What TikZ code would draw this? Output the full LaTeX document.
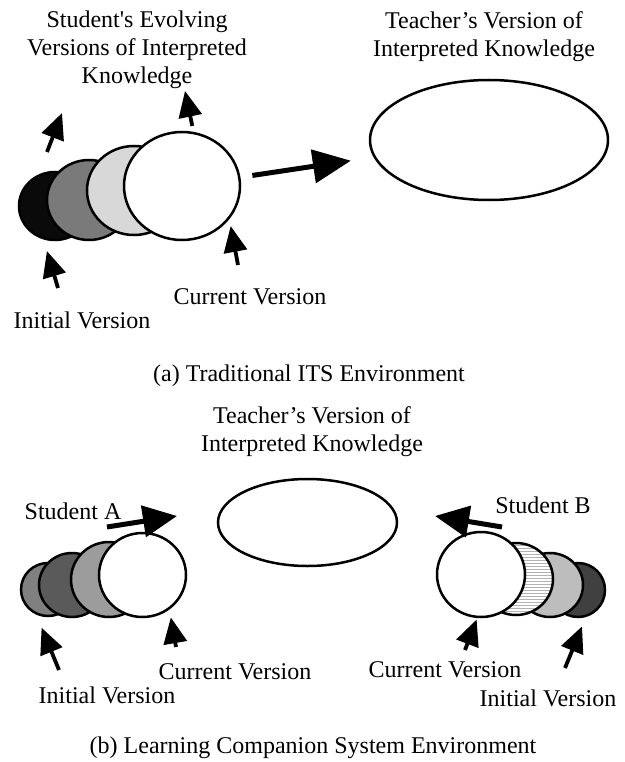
\documentclass[tikz,border=0pt]{standalone}
\usepackage{fontspec}
\setmainfont{Liberation Serif}
\usetikzlibrary{arrows.meta,shapes.geometric,patterns}
\definecolor{InkBlack}{HTML}{0A0A0A}
\definecolor{MidGray}{HTML}{7A7A7A}
\definecolor{PaleGray}{HTML}{D8D8D8}
\definecolor{StoneGray}{HTML}{808080}
\definecolor{SlateGray}{HTML}{5A5A5A}
\definecolor{AshGray}{HTML}{9C9C9C}
\definecolor{SilverGray}{HTML}{BDBDBD}
\definecolor{CoalGray}{HTML}{404040}

\begin{document}
\begin{tikzpicture}[x=1pt, y=-1pt,
		every node/.style={font=\fontsize{24}{28}\selectfont, inner sep=0pt},
		txt/.style={align=center},
		version/.style={ellipse, draw=black, line width=2.5pt, inner sep=0pt},
		bigarrow/.style={line width=5pt, -{Triangle[length=38pt,width=33pt]}},
		smallarrow/.style={line width=3.8pt, -{Triangle[length=26pt,width=23pt]}}]
	\path[use as bounding box] (0,0) rectangle (624,762);

	% (a) traditional ITS
	\node[txt] (evolving) at (137,50) {Student\textquotesingle s Evolving\\Versions of Interpreted\\Knowledge};
	\node[txt] (teacherTxtA) at (484,37) {Teacher’s Version of\\Interpreted Knowledge};

	\node[version, fill=InkBlack, minimum width=72pt, minimum height=68pt] (aV1) at (55,206) {};
	\node[version, fill=MidGray, minimum width=84pt, minimum height=80pt] (aV2) at (89,200) {};
	\node[version, fill=PaleGray, minimum width=94pt, minimum height=89pt] (aV3) at (134,190.5) {};
	\node[version, fill=white, minimum width=116pt, minimum height=108pt] (aCur) at (182,186) {};
	\node[version, minimum width=238pt, minimum height=120pt] (aTeacher) at (489,140) {};

	\draw[bigarrow, shorten <=12pt, shorten >=23pt] (aCur) -- (aTeacher);

	\coordinate (aUpTail) at (47,152);
	\coordinate (aUpTip) at (62,113);
	\coordinate (aTopTip) at (185,91);
	\coordinate (aIniTail) at (58,288);
	\coordinate (aCurTail) at (238,265);
	\draw[smallarrow] (aUpTail) -- (aUpTip);
	\draw[smallarrow, shorten <=6pt] (aCur.78) -- (aTopTip);
	\draw[smallarrow, shorten >=12pt] (aIniTail) -- (aV1.-109);
	\draw[smallarrow, shorten >=7pt] (aCurTail) -- (aCur.-35);

	\node (aCurLbl) at (250,297) {Current Version};
	\node (aIniLbl) at (82,320) {Initial Version};
	\node (capA) at (309,376) {(a) Traditional ITS Environment};

	% (b) learning companion system
	\node[txt] (teacherTxtB) at (312,432) {Teacher’s Version of\\Interpreted Knowledge};
	\node[version, minimum width=179pt, minimum height=87pt] (bTeacher) at (307.5,522.5) {};

	% student A
	\node[version, fill=StoneGray, minimum width=54pt, minimum height=53pt] (sA1) at (48,589.5) {};
	\node[version, fill=SlateGray, minimum width=66pt, minimum height=64pt] (sA2) at (72,585) {};
	\node[version, fill=AshGray, minimum width=76pt, minimum height=75pt] (sA3) at (109,579.5) {};
	\node[version, fill=white, minimum width=87pt, minimum height=84pt] (sACur) at (142.5,575) {};

	% student B
	\node[version, fill=CoalGray, minimum width=54pt, minimum height=54pt] (sB1) at (578,590) {};
	\node[version, fill=SilverGray, minimum width=66pt, minimum height=64pt] (sB2) at (550,585) {};
	\node[version, preaction={fill=white}, pattern=horizontal lines, pattern color=black!30,
		minimum width=74pt, minimum height=72pt] (sB3) at (516,579) {};
	\node[version, fill=white, minimum width=88pt, minimum height=85pt] (sBCur) at (481,574.5) {};

	\node (studA) at (73,511) {Student A};
	\node (studB) at (543,505) {Student B};
	\coordinate (sATail) at (107,527);
	\coordinate (sATip) at (177,516);
	\coordinate (sBTail) at (502,527);
	\coordinate (sBTip) at (435,516);
	\draw[bigarrow, -{Triangle[length=34pt,width=31pt]}] (sATail) -- (sATip);
	\draw[bigarrow, -{Triangle[length=34pt,width=31pt]}] (sBTail) -- (sBTip);

	\coordinate (sAIniTail) at (59,670);
	\coordinate (sACurTail) at (176,647);
	\coordinate (sBCurTail) at (465,650);
	\coordinate (sBIniTail) at (565,668);
	\draw[smallarrow, shorten >=14pt] (sAIniTail) -- (sA1.-115);
	\draw[smallarrow, shorten >=8pt] (sACurTail) -- (sACur.-52);
	\draw[smallarrow, shorten >=1.5pt] (sBCurTail) -- (sBCur.-95);
	\draw[smallarrow, shorten >=10pt] (sBIniTail) -- (sB1.-74);

	\node (sACurLbl) at (235,672) {Current Version};
	\node (sAIniLbl) at (107,695) {Initial Version};
	\node (sBCurLbl) at (445,670) {Current Version};
	\node (sBIniLbl) at (548,698) {Initial Version};
	\node (capB) at (313,748) {(b) Learning Companion System Environment};
\end{tikzpicture}
\end{document}
